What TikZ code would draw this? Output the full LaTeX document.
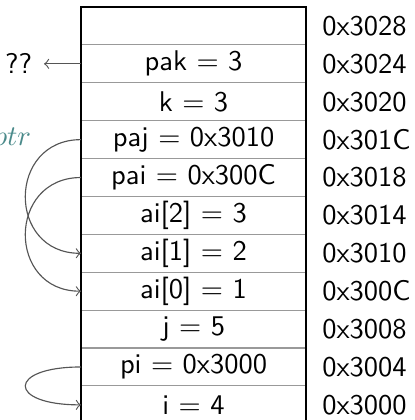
\documentclass[tikz,border=0pt]{standalone}
\usetikzlibrary{positioning}
\definecolor{ptrcol}{HTML}{4A8A8A}
\definecolor{arrcol}{HTML}{555555}
\begin{document}
\begin{tikzpicture}[
    x=0.351pt, y=-0.351pt,
    node distance=0pt,
    cell/.style={
        rectangle,
        draw=gray!80,
        minimum width=79pt,
        minimum height=13.3pt,
        inner sep=0pt,
        outer sep=0pt,
        font=\sffamily
    },
    addr/.style={font=\sffamily, inner sep=0pt},
    ptrarrow/.style={->, draw=arrcol, out=180, in=180, distance=26pt}
]
\useasboundingbox (0,0) rectangle (415,420);

% Memory cells, top to bottom
\node (r10) [cell, anchor=north west] at (81,7) {};
\node (r9) [cell, below=of r10] {pak $=$ 3};
\node (r8) [cell, below=of r9] {k $=$ 3};
\node (r7) [cell, below=of r8] {paj $=$ 0x3010};
\node (r6) [cell, below=of r7] {pai $=$ 0x300C};
\node (r5) [cell, below=of r6] {ai[2] $=$ 3};
\node (r4) [cell, below=of r5] {ai[1] $=$ 2};
\node (r3) [cell, below=of r4] {ai[0] $=$ 1};
\node (r2) [cell, below=of r3] {j $=$ 5};
\node (r1) [cell, below=of r2] {pi $=$ 0x3000};
\node (r0) [cell, below=of r1] {i $=$ 4};

% Outer border
\draw [line width=1pt] (r0.south west) -- (r10.north west) -- (r10.north east) -- (r0.south east);

% Addresses
\node (a10) [addr, right=5.5pt of r10] {0x3028};
\node (a9) [addr, right=5.5pt of r9] {0x3024};
\node (a8) [addr, right=5.5pt of r8] {0x3020};
\node (a7) [addr, right=5.5pt of r7] {0x301C};
\node (a6) [addr, right=5.5pt of r6] {0x3018};
\node (a5) [addr, right=5.5pt of r5] {0x3014};
\node (a4) [addr, right=5.5pt of r4] {0x3010};
\node (a3) [addr, right=5.5pt of r3] {0x300C};
\node (a2) [addr, right=5.5pt of r2] {0x3008};
\node (a1) [addr, right=5.5pt of r1] {0x3004};
\node (a0) [addr, right=5.5pt of r0] {0x3000};

% Labels on the left
\node (unk) [inner sep=0pt, left=17pt of r9, font=\sffamily] {??};
\node (ptr) [inner sep=0pt, left=17.3pt of r7, text=ptrcol] {$ptr$};

% Pointers
\draw [->, draw=arrcol] (r9.west) -- ([xshift=4pt]unk.east);
\draw [ptrarrow] (r7.west) to (r4.west);
\draw [ptrarrow] (r6.west) to (r3.west);
\draw [ptrarrow] (r1.west) to (r0.west);

\end{tikzpicture}
\end{document}
